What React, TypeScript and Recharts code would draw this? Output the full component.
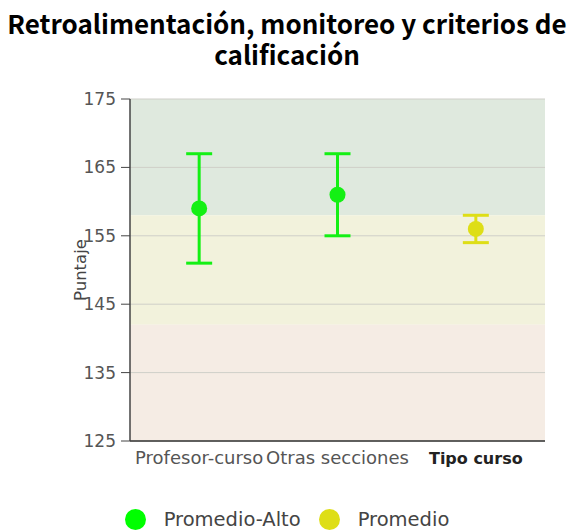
import React from "react";
import {
  ComposedChart,
  Scatter,
  ErrorBar,
  XAxis,
  YAxis,
  ReferenceArea,
  ReferenceLine,
} from "recharts";

const title = "Retroalimentación, monitoreo y criterios de calificación";
const categories = ["Profesor-curso", "Otras secciones", "Tipo curso"];
const highlightedCategory = "Tipo curso";
const yTicks = [125, 135, 145, 155, 165, 175];
const yLabel = "Puntaje";

const altoName = "Promedio-Alto";
const altoCats = ["Profesor-curso", "Otras secciones"];
const altoValues = [159, 161];
const altoErrors = [8, 6];

const promName = "Promedio";
const promCats = ["Tipo curso"];
const promValues = [156];
const promErrors = [2];

const bands = [
  { from: 158, to: 175, color: "#dfe9de" },
  { from: 142, to: 158, color: "#f2f2dc" },
  { from: 125, to: 142, color: "#f5ece4" },
];

const ALTO_COLOR = "#14f014";
const PROM_COLOR = "#dede16";

const chartData = categories.map((name) => ({ name }));
const altoData = altoCats.map((name, i) => ({ name, value: altoValues[i], err: altoErrors[i] }));
const promData = promCats.map((name, i) => ({ name, value: promValues[i], err: promErrors[i] }));

const legendItems = [
  { name: altoName, color: "#00ff00" },
  { name: promName, color: PROM_COLOR },
];

const FONT = "'DejaVu Sans', sans-serif";

const makeDot = (color: string) => (props: any) => {
  const { cx, cy } = props;
  if (cx == null || cy == null) return <g />;
  return <circle cx={cx} cy={cy} r={8} fill={color} />;
};

const XTick = (props: any) => {
  const { x, y, payload } = props;
  const bold = payload.value === highlightedCategory;
  return (
    <text
      x={x}
      y={y}
      dy={15}
      textAnchor="middle"
      fontSize={bold ? 16 : 18}
      fontFamily={FONT}
      fontWeight={bold ? 700 : 400}
      fill={bold ? "#222" : "#555"}
    >
      {payload.value}
    </text>
  );
};

export default function App() {
  return (
    <div style={{ position: "absolute", left: 0, top: 0, width: 574, height: 531, background: "#fff" }}>
      <div
        style={{
          position: "absolute",
          left: 0,
          top: 7,
          width: 574,
          textAlign: "center",
          fontFamily: "'Noto Sans CJK SC', 'Noto Sans', sans-serif",
          fontWeight: 700,
          fontSize: 26,
          lineHeight: "31px",
          color: "#000",
        }}
      >
        {title}
      </div>
      <div style={{ position: "absolute", left: 0, top: 0 }}>
        <ComposedChart
          width={574}
          height={500}
          data={chartData}
          margin={{ top: 99, right: 29, bottom: 29, left: 0 }}
        >
          {bands.map((b) => (
            <ReferenceArea
              key={b.from}
              y1={b.from}
              y2={b.to}
              fill={b.color}
              fillOpacity={1}
              stroke="none"
              ifOverflow="visible"
            />
          ))}
          {yTicks.map((t) => (
            <ReferenceLine key={t} y={t} stroke="#cfcfc8" strokeWidth={1} />
          ))}
          <XAxis
            dataKey="name"
            type="category"
            scale="band"
            allowDuplicatedCategory={false}
            tickLine={false}
            axisLine={{ stroke: "#333", strokeWidth: 1.5 }}
            tick={<XTick />}
            interval={0}
          />
          <YAxis
            type="number"
            domain={[125, 175]}
            ticks={yTicks}
            width={130}
            tickSize={9}
            tickMargin={5}
            axisLine={{ stroke: "#444", strokeWidth: 1.5 }}
            tickLine={{ stroke: "#444" }}
            tick={{ fontSize: 17, fill: "#555", fontFamily: FONT }}
            label={{
              value: yLabel,
              angle: -90,
              position: "insideLeft",
              offset: 80,
              fontSize: 16.5,
              fill: "#444",
              fontFamily: FONT,
              style: { textAnchor: "middle" },
            }}
          />
          <Scatter
            name={altoName}
            data={altoData}
            dataKey="value"
            fill={ALTO_COLOR}
            shape={makeDot(ALTO_COLOR)}
            isAnimationActive={false}
          >
            <ErrorBar dataKey="err" direction="y" width={13} stroke={ALTO_COLOR} strokeWidth={3} />
          </Scatter>
          <Scatter
            name={promName}
            data={promData}
            dataKey="value"
            fill={PROM_COLOR}
            shape={makeDot(PROM_COLOR)}
            isAnimationActive={false}
          >
            <ErrorBar dataKey="err" direction="y" width={13} stroke={PROM_COLOR} strokeWidth={3} />
          </Scatter>
        </ComposedChart>
      </div>
      <div
        style={{
          position: "absolute",
          left: 0,
          top: 508,
          width: 574,
          display: "flex",
          justifyContent: "center",
          alignItems: "center",
          fontFamily: FONT,
          fontSize: 19.5,
          color: "#444",
        }}
      >
        {legendItems.map((it, i) => (
          <div key={it.name} style={{ display: "flex", alignItems: "center", marginLeft: i === 0 ? 0 : 18 }}>
            <span
              style={{
                display: "inline-block",
                width: 21,
                height: 21,
                borderRadius: "50%",
                background: it.color,
                marginRight: 18,
              }}
            />
            <span>{it.name}</span>
          </div>
        ))}
      </div>
    </div>
  );
}
